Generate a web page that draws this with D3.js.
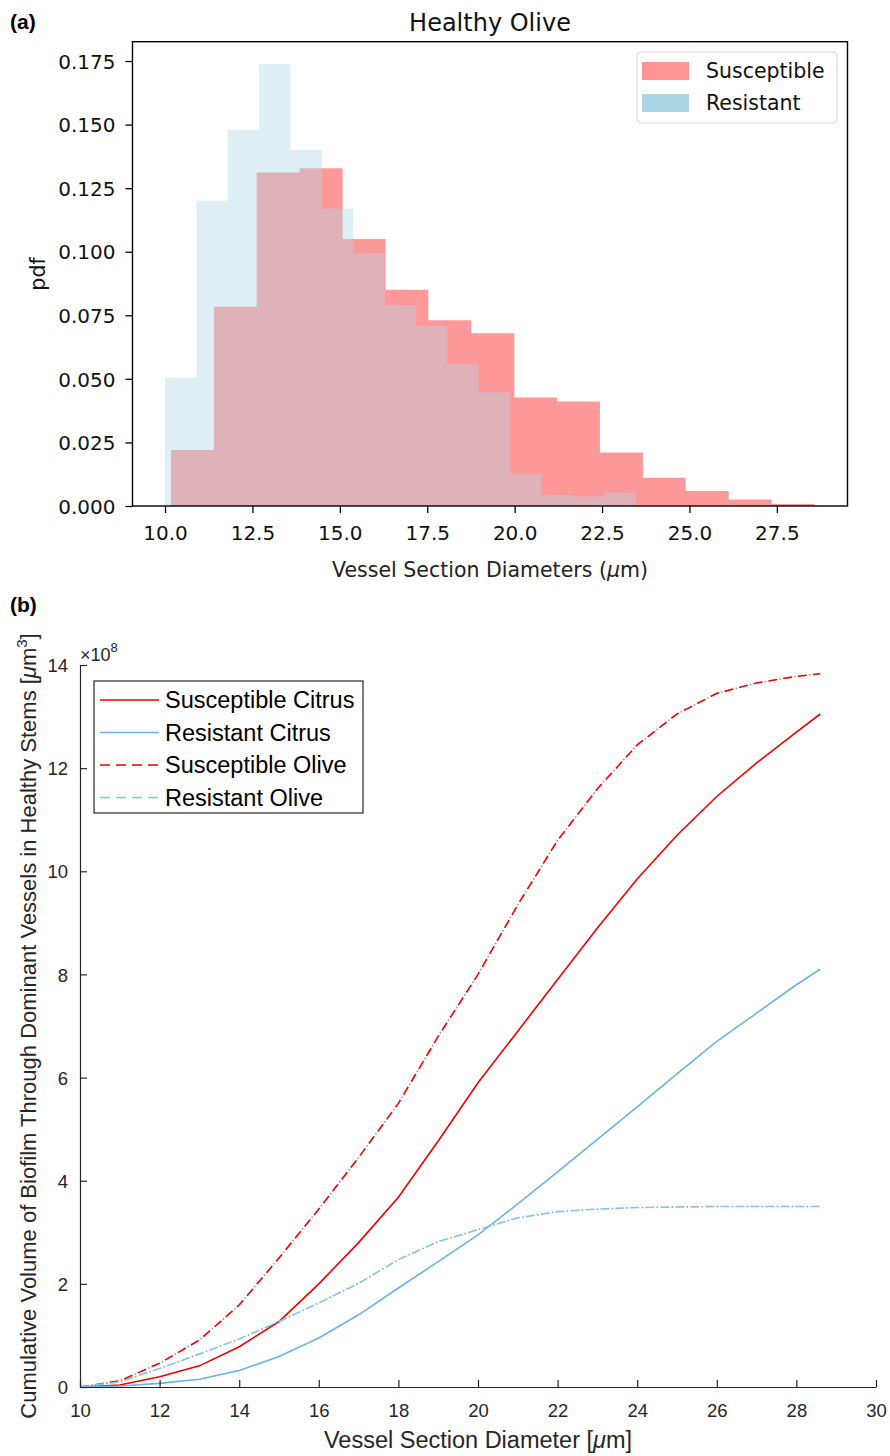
<!DOCTYPE html>
<html>
<head>
<meta charset="utf-8">
<script src="https://cdn.jsdelivr.net/npm/d3@7"></script>
<style>
  body { margin: 0; background: #fff; }
  svg { display: block; }
</style>
</head>
<body>
<svg id="chart"></svg>
<script>
const [WIDTH, HEIGHT] = [890, 1456]

// ---- (a) Healthy Olive histogram (density per bin) ----
const resistantEdges = [10.0, 10.9, 11.79, 12.69, 13.59, 14.49, 15.38, 16.28, 17.18, 18.07, 18.97, 19.87, 20.76, 21.66, 22.56, 23.46]
const resistantPdf = [0.0505, 0.120, 0.148, 0.1737, 0.140, 0.117, 0.0994, 0.079, 0.0708, 0.0557, 0.0447, 0.0126, 0.0043, 0.0037, 0.0052]
const susceptibleEdges = [10.17, 11.40, 12.62, 13.85, 15.08, 16.31, 17.53, 18.76, 19.99, 21.21, 22.44, 23.67, 24.89, 26.12, 27.35, 28.57]
const susceptiblePdf = [0.022, 0.0784, 0.1312, 0.1328, 0.105, 0.085, 0.0731, 0.0679, 0.0427, 0.0411, 0.0210, 0.0111, 0.0059, 0.0026, 0.0008]
const histXTicks = [10, 12.5, 15, 17.5, 20, 22.5, 25, 27.5]
const histYTicks = [0, 0.025, 0.05, 0.075, 0.1, 0.125, 0.15, 0.175]
const histSeries = ["Susceptible", "Resistant"]

// ---- (b) cumulative biofilm volume, units of 1e8 um^3 ----
const diameters = [10, 11, 12, 13, 14, 15, 16, 17, 18, 19, 20, 21, 22, 23, 24, 25, 26, 27, 28, 28.6]
const susceptibleCitrus = [0, 0.04, 0.2, 0.41, 0.78, 1.27, 2.0, 2.8, 3.68, 4.77, 5.9, 6.9, 7.9, 8.9, 9.85, 10.7, 11.45, 12.1, 12.7, 13.05]
const resistantCitrus = [0, 0.02, 0.07, 0.15, 0.32, 0.59, 0.95, 1.40, 1.92, 2.43, 2.95, 3.55, 4.17, 4.8, 5.43, 6.07, 6.7, 7.25, 7.8, 8.1]
const susceptibleOlive = [0, 0.12, 0.46, 0.91, 1.59, 2.5, 3.45, 4.45, 5.5, 6.8, 8.0, 9.35, 10.6, 11.6, 12.45, 13.05, 13.45, 13.65, 13.78, 13.83]
const resistantOlive = [0, 0.10, 0.36, 0.64, 0.93, 1.27, 1.63, 2.01, 2.47, 2.82, 3.05, 3.28, 3.40, 3.45, 3.48, 3.49, 3.50, 3.50, 3.50, 3.50]
const cumXTicks = [10, 12, 14, 16, 18, 20, 22, 24, 26, 28, 30]
const cumYTicks = [0, 2, 4, 6, 8, 10, 12, 14]
const cumLabels = ["Susceptible Citrus", "Resistant Citrus", "Susceptible Olive", "Resistant Olive"]

const svg = d3.select("#chart")
    .attr("width", WIDTH)
    .attr("height", HEIGHT)
    .attr("viewBox", `0 0 ${WIDTH} ${HEIGHT}`)

const MPL_FONT = "'DejaVu Sans', sans-serif"
const MAT_FONT = "'Liberation Sans', Arial, sans-serif"

// panel letters
svg.append("text").attr("x", 10).attr("y", 29)
    .style("font-family", MAT_FONT).style("font-weight", "bold").style("font-size", "21px")
    .text("(a)")
svg.append("text").attr("x", 10).attr("y", 612)
    .style("font-family", MAT_FONT).style("font-weight", "bold").style("font-size", "21px")
    .text("(b)")

// ================= (a) =================
function drawHistogram() {
    const x = d3.scaleLinear().domain([9.07, 29.52]).range([132.5, 847.5])
    const y = d3.scaleLinear().domain([0, 0.1826]).range([506, 41.7])
    const g = svg.append("g").style("font-family", MPL_FONT)

    const stepArea = d3.area()
        .curve(d3.curveStepAfter)
        .x(d => x(d.x))
        .y0(y(0))
        .y1(d => y(d.v))
    const toSteps = (edges, vals) => edges.map((e, i) => ({ x: e, v: vals[Math.min(i, vals.length - 1)] }))

    g.append("path")
        .attr("d", stepArea(toSteps(susceptibleEdges, susceptiblePdf)))
        .attr("fill", "red").attr("fill-opacity", 0.4)
    g.append("path")
        .attr("d", stepArea(toSteps(resistantEdges, resistantPdf)))
        .attr("fill", "lightblue").attr("fill-opacity", 0.4)

    // axes
    const xAxis = g.append("g").attr("transform", `translate(0,${y(0)})`)
        .call(d3.axisBottom(x).tickValues(histXTicks).tickFormat(d3.format(".1f")).tickSize(7).tickSizeOuter(0))
    const yAxis = g.append("g").attr("transform", `translate(${x.range()[0]},0)`)
        .call(d3.axisLeft(y).tickValues(histYTicks).tickFormat(d3.format(".3f")).tickSize(7).tickSizeOuter(0))
    for (const ax of [xAxis, yAxis]) {
        ax.select(".domain").remove()
        ax.selectAll(".tick line").attr("stroke", "#000").attr("stroke-width", 1.3)
        ax.selectAll(".tick text").attr("fill", "#111").style("font-size", "20px").style("font-family", MPL_FONT)
    }
    xAxis.selectAll(".tick text").attr("y", 34).attr("dy", 0)
    yAxis.selectAll(".tick text").attr("x", -17).attr("dy", "0.36em")

    // frame
    g.append("rect")
        .attr("x", x.range()[0]).attr("y", y.range()[1])
        .attr("width", x.range()[1] - x.range()[0]).attr("height", y.range()[0] - y.range()[1])
        .attr("fill", "none").attr("stroke", "#000").attr("stroke-width", 1.4)

    g.append("text").attr("x", 490).attr("y", 31).attr("text-anchor", "middle")
        .style("font-size", "24px").attr("fill", "#111").text("Healthy Olive")

    const xl = g.append("text").attr("x", 490).attr("y", 577).attr("text-anchor", "middle")
        .style("font-size", "20.5px").attr("fill", "#222")
    xl.append("tspan").text("Vessel Section Diameters (")
    xl.append("tspan").style("font-style", "italic").text("\u03bc")
    xl.append("tspan").text("m)")

    g.append("text").attr("transform", "translate(45,274) rotate(-90)").attr("text-anchor", "middle")
        .style("font-size", "20.5px").attr("fill", "#111").text("pdf")

    // legend
    const lg = g.append("g").attr("transform", "translate(637,52)")
    lg.append("rect").attr("width", 200).attr("height", 71).attr("rx", 4)
        .attr("fill", "#fff").attr("fill-opacity", 0.8).attr("stroke", "#d6d6d6")
    const swatch = ["#ff9494", "#acd6e5"]
    histSeries.forEach((name, i) => {
        lg.append("rect").attr("x", 5).attr("y", 10 + i * 32).attr("width", 47).attr("height", 18)
            .attr("fill", swatch[i])
        lg.append("text").attr("x", 69).attr("y", 26 + i * 32)
            .style("font-size", "20.5px").attr("fill", "#111").text(name)
    })
}

// ================= (b) =================
function drawCumulative() {
    const x = d3.scaleLinear().domain([10, 30]).range([80, 876])
    const y = d3.scaleLinear().domain([0, 14]).range([1387, 665])
    const g = svg.append("g").style("font-family", MAT_FONT)

    const line = d3.line().x(d => x(d[0])).y(d => y(d[1]))
    const pts = vals => diameters.map((d, i) => [d, vals[i]])

    const redC = "#f00000", blueC = "#6db2e2", blueO = "#82c4ee"
    const series = [
        { vals: susceptibleCitrus, color: redC, dash: null },
        { vals: resistantCitrus, color: blueC, dash: null },
        { vals: susceptibleOlive, color: redC, dash: "9 6" },
        { vals: resistantOlive, color: blueO, dash: "9 6" }
    ]
    for (const s of series) {
        g.append("path").attr("d", line(pts(s.vals)))
            .attr("fill", "none").attr("stroke", s.color).attr("stroke-width", 1.6)
            .attr("stroke-dasharray", s.dash)
        if (s.dash) {
            // dash-dot: grey dots inside the gaps
            g.append("path").attr("d", line(pts(s.vals)))
                .attr("fill", "none").attr("stroke", "#9a9a9a").attr("stroke-width", 1.6)
                .attr("stroke-dasharray", "1.5 13.5").attr("stroke-dashoffset", -11.25)
        }
    }

    const xAxis = g.append("g").attr("transform", `translate(0,${y(0)})`)
        .call(d3.axisBottom(x).tickValues(cumXTicks).tickSize(-7).tickSizeOuter(0))
    const yAxis = g.append("g").attr("transform", `translate(${x(10)},0)`)
        .call(d3.axisLeft(y).tickValues(cumYTicks).tickSize(-7).tickSizeOuter(0))
    for (const ax of [xAxis, yAxis]) {
        ax.select(".domain").attr("stroke", "#262626").attr("stroke-width", 1.2)
        ax.selectAll(".tick line").attr("stroke", "#262626").attr("stroke-width", 1.2)
        ax.selectAll(".tick text").attr("fill", "#262626").style("font-size", "18.5px").style("font-family", MAT_FONT)
    }
    xAxis.selectAll(".tick text").attr("y", 30).attr("dy", 0)
    yAxis.selectAll(".tick text").attr("x", -12).attr("dy", "0.36em")

    // exponent
    const ex = g.append("text").attr("x", 80).attr("y", 661).attr("fill", "#262626").style("font-size", "18px")
    ex.append("tspan").text("\u00d710")
    ex.append("tspan").attr("dy", -9).style("font-size", "13px").text("8")

    const xl = g.append("text").attr("x", 478).attr("y", 1448).attr("text-anchor", "middle")
        .style("font-size", "23.5px").attr("fill", "#262626")
    xl.append("tspan").text("Vessel Section Diameter [")
    xl.append("tspan").style("font-style", "italic").text("\u03bc")
    xl.append("tspan").text("m]")

    const yl = g.append("text").attr("transform", "translate(36,1026) rotate(-90)").attr("text-anchor", "middle")
        .style("font-size", "22px").attr("fill", "#262626")
    yl.append("tspan").text("Cumulative Volume of Biofilm Through Dominant Vessels in Healthy Stems [")
    yl.append("tspan").style("font-style", "italic").text("\u03bc")
    yl.append("tspan").text("m")
    yl.append("tspan").attr("dy", -9).style("font-size", "15px").text("3")
    yl.append("tspan").attr("dy", 9).text("]")

    // legend
    const lg = g.append("g").attr("transform", "translate(94,681)")
    lg.append("rect").attr("width", 269).attr("height", 132)
        .attr("fill", "#fff").attr("stroke", "#262626").attr("stroke-width", 1.2)
    cumLabels.forEach((name, i) => {
        const s = series[i]
        const cy = 19 + i * 32.5
        lg.append("line").attr("x1", 6).attr("x2", 65).attr("y1", cy).attr("y2", cy)
            .attr("stroke", s.color).attr("stroke-width", 1.6)
            .attr("stroke-dasharray", s.dash ? "10 6" : null)
        lg.append("text").attr("x", 71).attr("y", cy + 8)
            .style("font-size", "23.5px").attr("fill", "#000").text(name)
    })
}

drawHistogram()
drawCumulative()
</script>
</body>
</html>
